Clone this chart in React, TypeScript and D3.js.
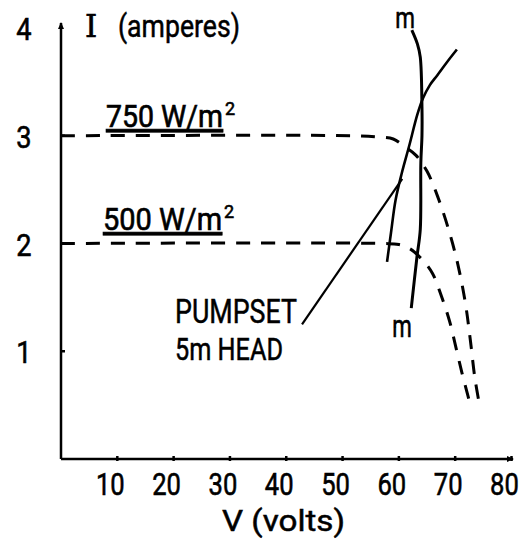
import React from 'react';
import * as d3 from 'd3';

// ---- data ----
const VOLT_TICKS = [10, 20, 30, 40, 50, 60, 70, 80];
const AMP_TICKS = [1, 2, 3, 4];

const CURVE_750_V = [0, 52, 56, 59, 61, 63, 65, 67, 69, 70.5, 71.8, 72.7, 73.5, 74.4];
const CURVE_750_I = [3, 3, 2.99, 2.97, 2.9, 2.82, 2.67, 2.42, 2.1, 1.8, 1.45, 1.1, 0.75, 0.48];

const CURVE_500_V = [0, 57, 60, 62, 64.5, 66, 67.5, 69, 70.2, 71.2, 72.2, 72.8];
const CURVE_500_I = [2, 2, 1.99, 1.95, 1.83, 1.72, 1.52, 1.28, 1.02, 0.8, 0.6, 0.48];

const PUMP_V = [57.9, 58.6, 59.4, 60.5, 61.8, 63.3, 64.3, 65.5, 66.8, 68.5, 70.3];
const PUMP_I = [1.83, 2.1, 2.4, 2.65, 2.9, 3.2, 3.35, 3.47, 3.56, 3.68, 3.8];

const MPP_V = [62.3, 63.3, 63.8, 64.1, 64.1, 63.9, 63.8, 63.2, 62.2];
const MPP_I = [3.98, 3.85, 3.73, 3.27, 3.0, 2.75, 2.13, 1.87, 1.4];

const POINTER_V = [42.8, 60.6];
const POINTER_I = [1.25, 2.6];

const FONT = "Roboto, 'Open Sans', 'DejaVu Sans', sans-serif";

type LabelProps = {
  x: number;
  y: number;
  size: number;
  sx?: number;
  sy?: number;
  anchor?: 'start' | 'middle' | 'end';
  family?: string;
  underline?: boolean;
  children: React.ReactNode;
};

function Label({ x, y, size, sx = 1, sy = 1, anchor = 'start', family, underline, children }: LabelProps) {
  return (
    <text
      transform={`translate(${x},${y}) scale(${sx},${sy})`}
      fontSize={size}
      textAnchor={anchor}
      fill="#000"
      stroke="#000"
      strokeWidth={0.6}
      fontFamily={family}
      textDecoration={underline ? 'underline' : undefined}
    >
      {children}
    </text>
  );
}

export default function App() {
  const W = 527;
  const H = 546;
  const x = d3.scaleLinear().domain([0, 80]).range([61, 511.5]);
  const y = d3.scaleLinear().domain([0, 4]).range([459, 28]);

  const pts = (vs: number[], is: number[]) => vs.map((v, i) => [v, is[i]] as [number, number]);
  const smooth = d3
    .line<[number, number]>()
    .x((d) => x(d[0]))
    .y((d) => y(d[1]))
    .curve(d3.curveCatmullRom.alpha(0.5));
  const straight = d3
    .line<[number, number]>()
    .x((d) => x(d[0]))
    .y((d) => y(d[1]));

  const x0 = x(0);
  const y0 = y(0);
  const xEnd = x(80) + 1.5;
  const yTop = y(4) - 5;

  return (
    <svg
      width={W}
      height={H}
      style={{ position: 'absolute', left: 0, top: 0, background: '#fff' }}
      fontFamily={FONT}
    >
      <rect x={0} y={0} width={W} height={H} fill="#fff" />

      {/* axes */}
      <line x1={x0} y1={y0} x2={x0} y2={yTop} stroke="#000" strokeWidth={2.5} />
      <line x1={x0} y1={y0} x2={xEnd} y2={y0} stroke="#000" strokeWidth={2.5} />
      <path d={`M${x0 - 3},${yTop + 6} L${x0},${yTop - 1} L${x0 + 3},${yTop + 6} Z`} fill="#000" />
      <path d={`M${xEnd - 6},${y0 - 3} L${xEnd + 1},${y0} L${xEnd - 6},${y0 + 3} Z`} fill="#000" />

      {/* x ticks */}
      {VOLT_TICKS.map((v) => (
        <g key={`xt${v}`}>
          <line x1={x(v)} y1={y0 - 3} x2={x(v)} y2={y0 + 2} stroke="#000" strokeWidth={2.5} />
          <Label x={x(v) - 7} y={495} size={32} sx={0.8} anchor="middle">
            {v}
          </Label>
        </g>
      ))}

      {/* y ticks */}
      {AMP_TICKS.map((v) => (
        <g key={`yt${v}`}>
          {v < 4 && <line x1={x0} y1={y(v)} x2={x0 + 4} y2={y(v)} stroke="#000" strokeWidth={2.5} />}
          <Label x={24} y={y(v) + 12} size={32} sx={0.85} anchor="middle">
            {v}
          </Label>
        </g>
      ))}

      {/* axis titles */}
      <text x={222} y={531} fontSize={30} fill="#000" stroke="#000" strokeWidth={0.5} textLength={123} lengthAdjust="spacingAndGlyphs">
        V (volts)
      </text>
      <Label x={91} y={37} size={31} anchor="middle" family="'DejaVu Serif', serif">
        I
      </Label>
      <text x={118} y={37} fontSize={31} fill="#000" stroke="#000" strokeWidth={0.5} textLength={122} lengthAdjust="spacingAndGlyphs">
        (amperes)
      </text>

      {/* irradiance curves (dashed) */}
      <path
        d={smooth(pts(CURVE_750_V, CURVE_750_I)) || ''}
        fill="none"
        stroke="#000"
        strokeWidth={3}
        strokeDasharray="14 11"
      />
      <path
        d={smooth(pts(CURVE_500_V, CURVE_500_I)) || ''}
        fill="none"
        stroke="#000"
        strokeWidth={3}
        strokeDasharray="14 11"
      />

      {/* pumpset load curve */}
      <path d={smooth(pts(PUMP_V, PUMP_I)) || ''} fill="none" stroke="#000" strokeWidth={2.6} />
      {/* maximum power locus m-m */}
      <path d={smooth(pts(MPP_V, MPP_I)) || ''} fill="none" stroke="#000" strokeWidth={3} />
      {/* pointer */}
      <path d={straight(pts(POINTER_V, POINTER_I)) || ''} fill="none" stroke="#000" strokeWidth={2.2} />

      {/* curve labels */}
      <Label x={106} y={127} size={28.5} sy={1.1} underline>
        750 W/m
      </Label>
      <Label x={225} y={115} size={18}>
        2
      </Label>
      <Label x={103} y={230} size={29} sy={1.08} underline>
        500 W/m
      </Label>
      <Label x={224} y={218} size={18}>
        2
      </Label>
      <text x={175} y={323} fontSize={34} fill="#000" stroke="#000" strokeWidth={0.5} textLength={122} lengthAdjust="spacingAndGlyphs">
        PUMPSET
      </text>
      <text x={175} y={360} fontSize={32} fill="#000" stroke="#000" strokeWidth={0.5} textLength={108} lengthAdjust="spacingAndGlyphs">
        5m HEAD
      </text>
      <Label x={405} y={28} size={30} sx={0.75} anchor="middle">
        m
      </Label>
      <Label x={402} y={337} size={31} sx={0.72} anchor="middle">
        m
      </Label>
    </svg>
  );
}
